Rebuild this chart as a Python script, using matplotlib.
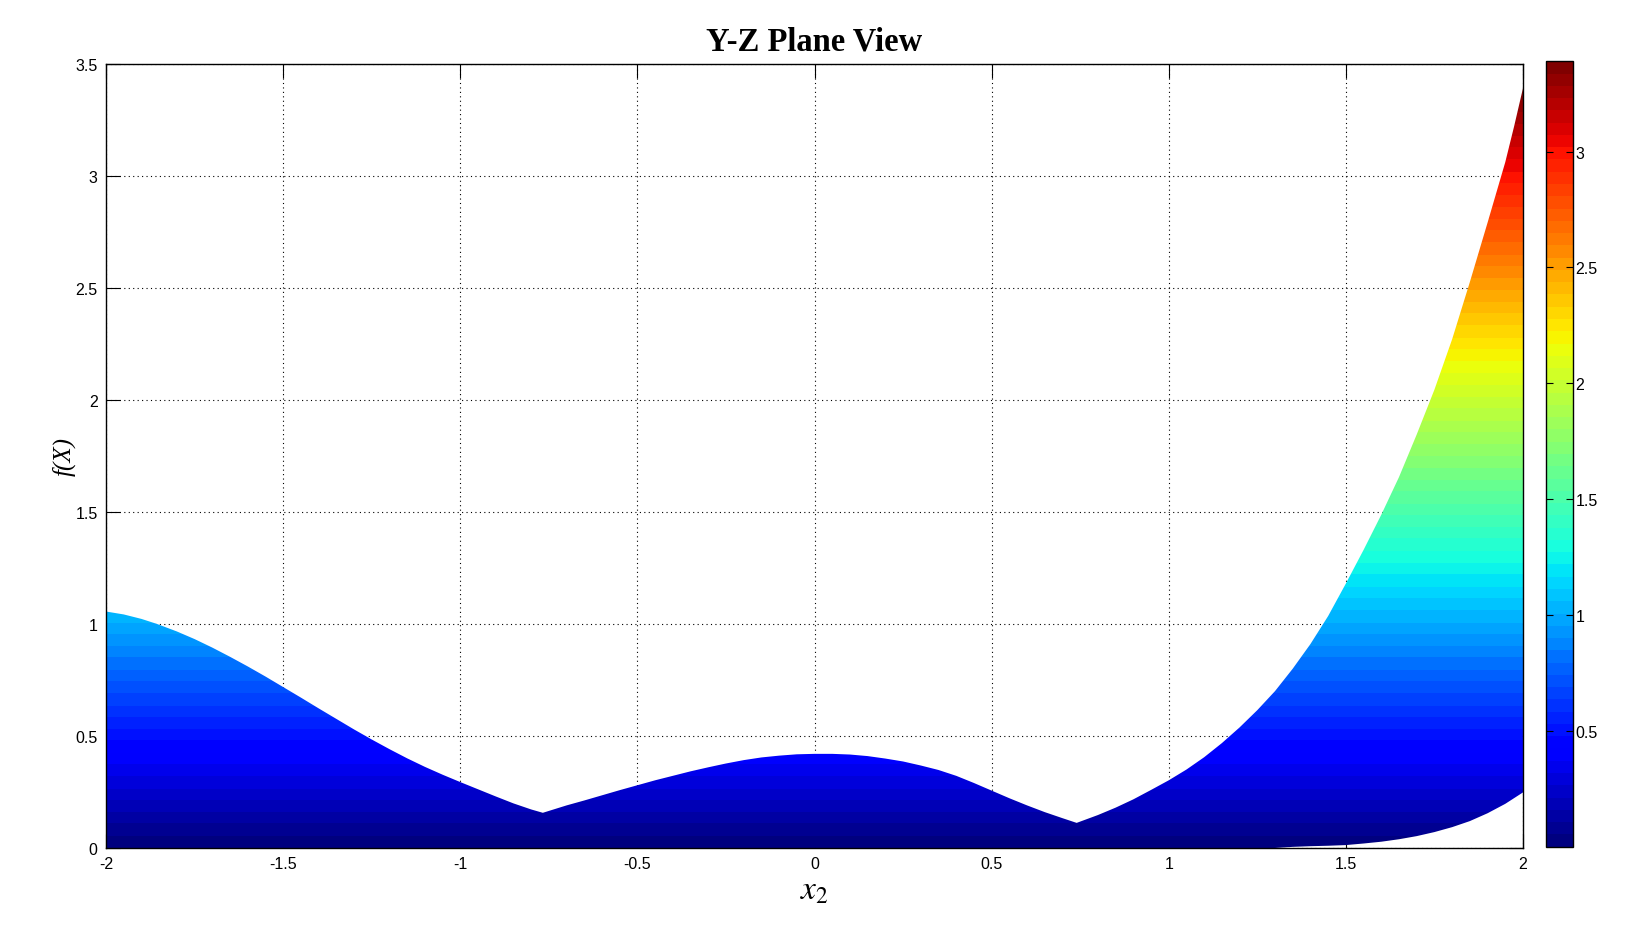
import numpy as np
import matplotlib
matplotlib.use("Agg")
import matplotlib.pyplot as plt
from matplotlib.colors import ListedColormap

# upper edge of the surface seen from the side (max over x1)
x2 = [-2.0, -1.95, -1.9, -1.857, -1.8, -1.75, -1.7, -1.65, -1.6, -1.55, -1.5, -1.45,
      -1.4, -1.35, -1.3, -1.25, -1.2, -1.15, -1.1, -1.05, -1.0, -0.95, -0.9, -0.85,
      -0.8, -0.767, -0.7, -0.65, -0.6, -0.55, -0.5, -0.45, -0.4, -0.35, -0.3, -0.25,
      -0.2, -0.15, -0.1, -0.05, 0.0, 0.05, 0.1, 0.15, 0.2, 0.25, 0.3, 0.35, 0.4,
      0.45, 0.5, 0.55, 0.6, 0.65, 0.7, 0.74, 0.8, 0.85, 0.9, 0.95, 1.0, 1.05, 1.1,
      1.15, 1.2, 1.25, 1.3, 1.35, 1.4, 1.45, 1.5, 1.55, 1.6, 1.65, 1.7, 1.75, 1.8,
      1.85, 1.9, 1.95, 1.975, 2.0]
f_upper = [1.055, 1.042, 1.022, 1.0, 0.966, 0.932, 0.894, 0.853, 0.81, 0.765, 0.718,
           0.671, 0.623, 0.576, 0.529, 0.484, 0.441, 0.40, 0.362, 0.327, 0.294, 0.262,
           0.23, 0.199, 0.172, 0.157, 0.19, 0.212, 0.235, 0.258, 0.28, 0.302, 0.322,
           0.342, 0.36, 0.377, 0.392, 0.404, 0.412, 0.418, 0.42, 0.42, 0.417, 0.41,
           0.399, 0.386, 0.368, 0.348, 0.322, 0.29, 0.256, 0.222, 0.19, 0.16, 0.133,
           0.112, 0.147, 0.18, 0.217, 0.259, 0.302, 0.35, 0.405, 0.468, 0.538, 0.615,
           0.70, 0.80, 0.91, 1.035, 1.18, 1.33, 1.487, 1.655, 1.845, 2.045, 2.27,
           2.525, 2.79, 3.06, 3.22, 3.39]

# lower edge (min over x1), zero until about x2 = 1.3
x2_low = [-2.0, 1.3, 1.35, 1.4, 1.45, 1.5, 1.55, 1.6, 1.65, 1.7, 1.75, 1.8, 1.85,
          1.9, 1.95, 2.0]
f_lower = [0.0, 0.0, 0.005, 0.008, 0.010, 0.013, 0.020, 0.028, 0.039, 0.053, 0.071,
           0.093, 0.12, 0.155, 0.197, 0.248]

x_ticks = [-2, -1.5, -1, -0.5, 0, 0.5, 1, 1.5, 2]
x_tick_labels = ["-2", "-1.5", "-1", "-0.5", "0", "0.5", "1", "1.5", "2"]
y_ticks = [0, 0.5, 1, 1.5, 2, 2.5, 3, 3.5]
y_tick_labels = ["0", "0.5", "1", "1.5", "2", "2.5", "3", "3.5"]
cbar_ticks = [0.5, 1, 1.5, 2, 2.5, 3]
cbar_tick_labels = ["0.5", "1", "1.5", "2", "2.5", "3"]
f_min, f_max = 0.0, 3.39

plt.rcParams['font.family'] = ['Liberation Sans', 'DejaVu Sans']
plt.rcParams['mathtext.fontset'] = 'stix'

jet64 = ListedColormap(plt.get_cmap('jet')(np.linspace(0, 1, 64)))

fig = plt.figure(figsize=(16.32, 9.45), dpi=100)
ax = fig.add_axes([0.065, 0.1016, 0.8682, 0.8301])
cax = fig.add_axes([0.9471, 0.1030, 0.01654, 0.8311])

# colour follows the height, like surf with cdata = z
grad = np.linspace(0, 3.5, 700).reshape(-1, 1)
im = ax.imshow(grad, origin='lower', extent=[-2, 2, 0, 3.5], aspect='auto',
               cmap=jet64, vmin=f_min, vmax=f_max, interpolation='nearest', zorder=2)
outline_x = list(x2) + x2_low[::-1]
outline_y = list(f_upper) + f_lower[::-1]
poly = ax.fill(outline_x, outline_y, facecolor='none', edgecolor='none')[0]
im.set_clip_path(poly)

ax.set_xlim(-2, 2)
ax.set_ylim(0, 3.5)
ax.set_xticks(x_ticks)
ax.set_xticklabels(x_tick_labels)
ax.set_yticks(y_ticks)
ax.set_yticklabels(y_tick_labels)
ax.tick_params(direction='in', length=10, width=0.8, labelsize=11.5, pad=6,
               top=True, right=True, colors='black')
ax.grid(True, color='black', linestyle=(0, (1, 3)), linewidth=0.8, zorder=1)
ax.set_axisbelow(True)
for s in ax.spines.values():
    s.set_linewidth(1.0)
    s.set_zorder(5)

ax.set_title("Y-Z Plane View", fontfamily='Liberation Serif', fontweight='bold',
             fontsize=23.5, pad=10)
ax.set_xlabel(r"$x_2$", fontsize=24, labelpad=2)
ax.set_ylabel("f(X)", fontfamily='Liberation Serif', fontstyle='italic',
              fontsize=18, labelpad=0)

cb = fig.colorbar(im, cax=cax)
cb.outline.set_linewidth(1.0)
cb.set_ticks(cbar_ticks)
cb.set_ticklabels(cbar_tick_labels)
cax.tick_params(direction='in', length=5, width=0.8, labelsize=11.5, pad=2,
                left=True, right=True)

fig.savefig("out.png", dpi=100)
